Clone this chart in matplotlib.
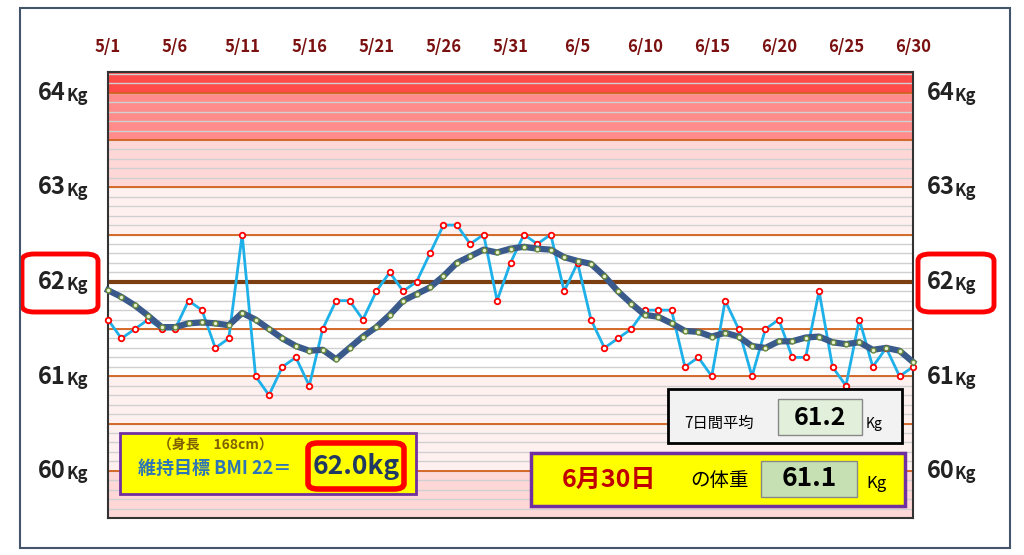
import numpy as np
import matplotlib.pyplot as plt
from matplotlib.patches import FancyBboxPatch, Rectangle

plt.rcParams['font.family'] = ['Noto Sans CJK JP', 'DejaVu Sans']

# daily weight 5/1 .. 6/30
weight = [61.6, 61.4, 61.5, 61.6, 61.5, 61.5, 61.8, 61.7, 61.3, 61.4,
          62.5, 61.0, 60.8, 61.1, 61.2, 60.9, 61.5, 61.8, 61.8, 61.6,
          61.9, 62.1, 61.9, 62.0, 62.3, 62.6, 62.6, 62.4, 62.5, 61.8,
          62.2, 62.5, 62.4, 62.5, 61.9, 62.2, 61.6, 61.3, 61.4, 61.5,
          61.7, 61.7, 61.7, 61.1, 61.2, 61.0, 61.8, 61.5, 61.0, 61.5,
          61.6, 61.2, 61.2, 61.9, 61.1, 60.9, 61.6, 61.1, 61.3, 61.0, 61.1]
# 7-day average
avg7 = [61.91, 61.84, 61.75, 61.64, 61.52, 61.52, 61.56, 61.57, 61.56, 61.54,
        61.67, 61.60, 61.50, 61.40, 61.32, 61.27, 61.28, 61.18, 61.30, 61.42,
        61.52, 61.65, 61.80, 61.87, 61.94, 62.06, 62.20, 62.27, 62.34, 62.31,
        62.35, 62.37, 62.35, 62.34, 62.26, 62.22, 62.19, 62.06, 61.90, 61.77,
        61.65, 61.63, 61.56, 61.48, 61.47, 61.42, 61.46, 61.42, 61.32, 61.30,
        61.37, 61.37, 61.41, 61.42, 61.36, 61.34, 61.36, 61.28, 61.30, 61.27, 61.15]
date_labels = ['5/1', '5/6', '5/11', '5/16', '5/21', '5/26', '5/31',
               '6/5', '6/10', '6/15', '6/20', '6/25', '6/30']
y_labels = [60, 61, 62, 63, 64]
target = 62.0

W, H = 1024, 555
fig = plt.figure(figsize=(W / 100, H / 100), dpi=100)
ax = fig.add_axes([108 / W, 1 - 518 / H, 805 / W, 446 / H])
days = np.arange(len(weight))
ax.set_xlim(0, len(weight) - 1)
ax.set_ylim(59.5, 64.22)

# background bands
bands = [(64.0, 64.22, '#ff4a4a'), (63.5, 64.0, '#ff8b8b'), (63.0, 63.5, '#ffd7d7'),
         (62.5, 63.0, '#fff0f0'), (61.0, 62.5, 'white'), (60.0, 61.0, '#fff0f0'),
         (59.5, 60.0, '#ffd7d7')]
for lo, hi, c in bands:
    ax.axhspan(lo, hi, color=c, zorder=0)
for v in np.arange(59.6, 64.2, 0.1):
    ax.axhline(v, color='#d0d0d0', lw=1, zorder=1)
for v in [60.0, 60.5, 61.0, 61.5, 62.5, 63.0, 63.5, 64.0]:
    ax.axhline(v, color='#d2601a', lw=1.3, zorder=2)
ax.axhline(target, color='#7b3f12', lw=3, zorder=2)

ax.plot(days, weight, color='#1eb0e8', lw=2, zorder=3, clip_on=False,
        marker='o', ms=4, mfc='white', mec='red', mew=1.3)
ax.plot(days, avg7, color='#3a5a8c', lw=4.5, zorder=4, clip_on=False,
        marker='o', ms=3.5, mfc='#e8f0d0', mec='#6a8a3a', mew=1)

ax.set_xticks([])
ax.set_yticks([])
for s in ax.spines.values():
    s.set_color('#333')
    s.set_linewidth(1.5)

# top date labels
for i, lab in enumerate(date_labels):
    x = (108 + i * 5 * 805 / 60) / W
    fig.text(x, 1 - 47 / H, lab, ha='center', va='center', color='#7b1010',
             fontsize=12, fontweight='bold')

# y labels both sides
def ylab(xc, v):
    yp = 1 - (282 - (v - 62) * 94.5) / H
    fig.text(xc, yp, f'{v}', ha='right', va='center', fontsize=17,
             fontweight='bold', color='#222')
    fig.text(xc, yp - 0.006, 'Kg', ha='left', va='center', fontsize=12,
             fontweight='bold', color='#222')

for v in y_labels:
    ylab(66 / W, v)
    ylab(955 / W, v)

# red rounded boxes at 62
for x0 in [22, 918]:
    fig.patches.append(FancyBboxPatch((x0 / W, 1 - 312 / H), 76 / W, 58 / H,
                                      boxstyle='round,pad=0,rounding_size=0.012',
                                      transform=fig.transFigure, fill=False,
                                      ec='red', lw=3.5))

# outer frame
fig.patches.append(Rectangle((20 / W, 1 - 548 / H), 990 / W, 540 / H,
                             transform=fig.transFigure, fill=False,
                             ec='#44546a', lw=1.5))

# BMI box
fig.patches.append(Rectangle((120 / W, 1 - 494 / H), 296 / W, 61 / H,
                             transform=fig.transFigure, fc='#ffff00',
                             ec='#7030a0', lw=2, zorder=5))
fig.text(215 / W, 1 - 446 / H, '（身長　168cm）', ha='center', va='center',
         fontsize=10, fontweight='bold', color='#7f6000', zorder=6)
fig.text(138 / W, 1 - 468 / H, '維持目標 BMI 22＝', ha='left', va='center',
         fontsize=13, fontweight='bold', color='#2e75b6', zorder=6)
fig.patches.append(FancyBboxPatch((308 / W, 1 - 489 / H), 96 / W, 46 / H,
                                  boxstyle='round,pad=0,rounding_size=0.01',
                                  transform=fig.transFigure, fc='#ffff00',
                                  ec='red', lw=4, zorder=6))
fig.text(356 / W, 1 - 467 / H, f'{target:.1f}kg', ha='center', va='center',
         fontsize=19, fontweight='bold', color='#1f3864', zorder=7)

# 7-day average box
fig.patches.append(Rectangle((668 / W, 1 - 443 / H), 234 / W, 54 / H,
                             transform=fig.transFigure, fc='#f2f2f2',
                             ec='black', lw=2, zorder=5))
fig.text(684 / W, 1 - 423 / H, '7日間平均', ha='left', va='center',
         fontsize=11, color='black', zorder=6)
fig.patches.append(Rectangle((778 / W, 1 - 435 / H), 84 / W, 36 / H,
                             transform=fig.transFigure, fc='#e2efda',
                             ec='#888', lw=1, zorder=6))
fig.text(820 / W, 1 - 418 / H, f'{np.round(np.mean(weight[-7:]), 1)}', ha='center',
         va='center', fontsize=18, fontweight='bold', color='black', zorder=7)
fig.text(866 / W, 1 - 424 / H, 'Kg', ha='left', va='center', fontsize=10, zorder=7)

# today box
fig.patches.append(Rectangle((531 / W, 1 - 506 / H), 374 / W, 53 / H,
                             transform=fig.transFigure, fc='#ffff00',
                             ec='#7030a0', lw=2.5, zorder=5))
fig.text(609 / W, 1 - 480 / H, '6月30日', ha='center', va='center',
         fontsize=18, fontweight='bold', color='#c00000', zorder=6)
fig.text(690 / W, 1 - 481 / H, 'の体重', ha='left', va='center',
         fontsize=14, color='black', zorder=6)
fig.patches.append(Rectangle((761 / W, 1 - 497 / H), 96 / W, 36 / H,
                             transform=fig.transFigure, fc='#c6e0b4',
                             ec='#888', lw=1, zorder=6))
fig.text(809 / W, 1 - 479 / H, f'{weight[-1]}', ha='center', va='center',
         fontsize=19, fontweight='bold', color='black', zorder=7)
fig.text(866 / W, 1 - 483 / H, 'Kg', ha='left', va='center', fontsize=12, zorder=7)

fig.savefig('out.png', dpi=100)
